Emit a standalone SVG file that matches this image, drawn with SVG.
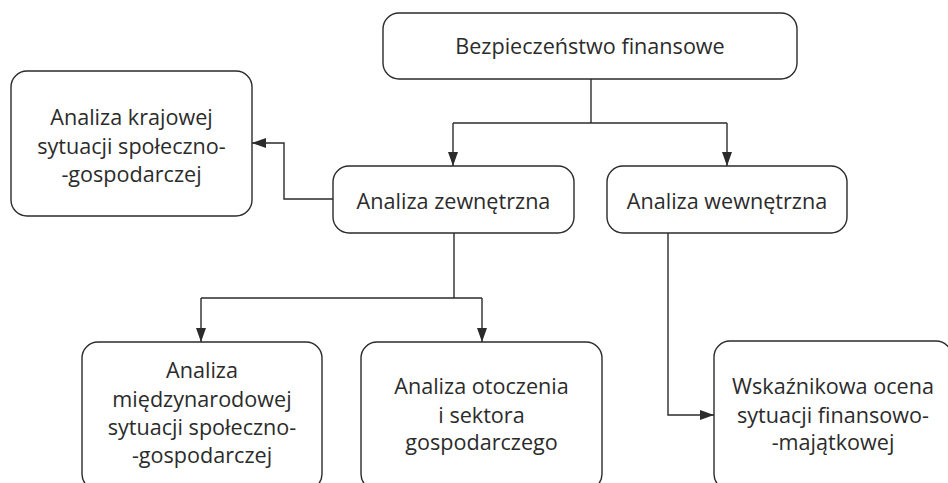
<svg xmlns="http://www.w3.org/2000/svg" width="948" height="483" viewBox="0 0 948 483">
<defs>
<style>
.box{fill:#fff;stroke:#2b2b2b;stroke-width:1.4}
.t{font-family:"Open Sans","Liberation Sans",sans-serif;font-size:21.6px;fill:#2b2b2b;text-anchor:middle}
.c{fill:none;stroke:#2b2b2b;stroke-width:1.4}
</style>
<marker id="ah" viewBox="0 0 14 10" refX="14" refY="5" markerWidth="14" markerHeight="10" markerUnits="userSpaceOnUse" orient="auto">
<path d="M0,0 L14,5 L0,10 Z" fill="#2b2b2b"/>
</marker>
</defs>
<rect width="948" height="483" fill="#fff"/>
<g id="connectors">
<path class="c" d="M591,79 V123"/>
<path class="c" d="M453,123 H727"/>
<path class="c" d="M453,123 V166" marker-end="url(#ah)"/>
<path class="c" d="M727,123 V166" marker-end="url(#ah)"/>
<path class="c" d="M333,199 H284 V143 H252" marker-end="url(#ah)"/>
<path class="c" d="M454,233 V298"/>
<path class="c" d="M201,298 H482"/>
<path class="c" d="M201,298 V342" marker-end="url(#ah)"/>
<path class="c" d="M482,298 V342" marker-end="url(#ah)"/>
<path class="c" d="M668,233 V415 H714" marker-end="url(#ah)"/>
</g>
<g id="n-bezpieczenstwo">
<rect class="box" x="383" y="13" width="414" height="66" rx="16"/>
<text class="t" x="590" y="54">Bezpieczeństwo finansowe</text>
</g>
<g id="n-krajowa">
<rect class="box" x="11" y="71" width="241" height="145" rx="16"/>
<text class="t" x="131.5" y="125">Analiza krajowej</text>
<text class="t" x="131.5" y="154">sytuacji społeczno-</text>
<text class="t" x="131.5" y="182">-gospodarczej</text>
</g>
<g id="n-zewnetrzna">
<rect class="box" x="333" y="166" width="241" height="67" rx="16"/>
<text class="t" x="453.5" y="209">Analiza zewnętrzna</text>
</g>
<g id="n-wewnetrzna">
<rect class="box" x="607" y="166" width="240" height="67" rx="16"/>
<text class="t" x="727" y="209">Analiza wewnętrzna</text>
</g>
<g id="n-miedzynarodowa">
<rect class="box" x="82" y="342" width="240" height="148" rx="16"/>
<text class="t" x="202" y="378">Analiza</text>
<text class="t" x="202" y="407">międzynarodowej</text>
<text class="t" x="202" y="435">sytuacji społeczno-</text>
<text class="t" x="202" y="463">-gospodarczej</text>
</g>
<g id="n-otoczenie">
<rect class="box" x="361" y="342" width="241" height="148" rx="16"/>
<text class="t" x="481.5" y="394">Analiza otoczenia</text>
<text class="t" x="481.5" y="423">i sektora</text>
<text class="t" x="481.5" y="450">gospodarczego</text>
</g>
<g id="n-wskaznikowa">
<rect class="box" x="714" y="341" width="238" height="149" rx="16"/>
<text class="t" x="833" y="394">Wskaźnikowa ocena</text>
<text class="t" x="833" y="423">sytuacji finansowo-</text>
<text class="t" x="833" y="450">-majątkowej</text>
</g>
</svg>
